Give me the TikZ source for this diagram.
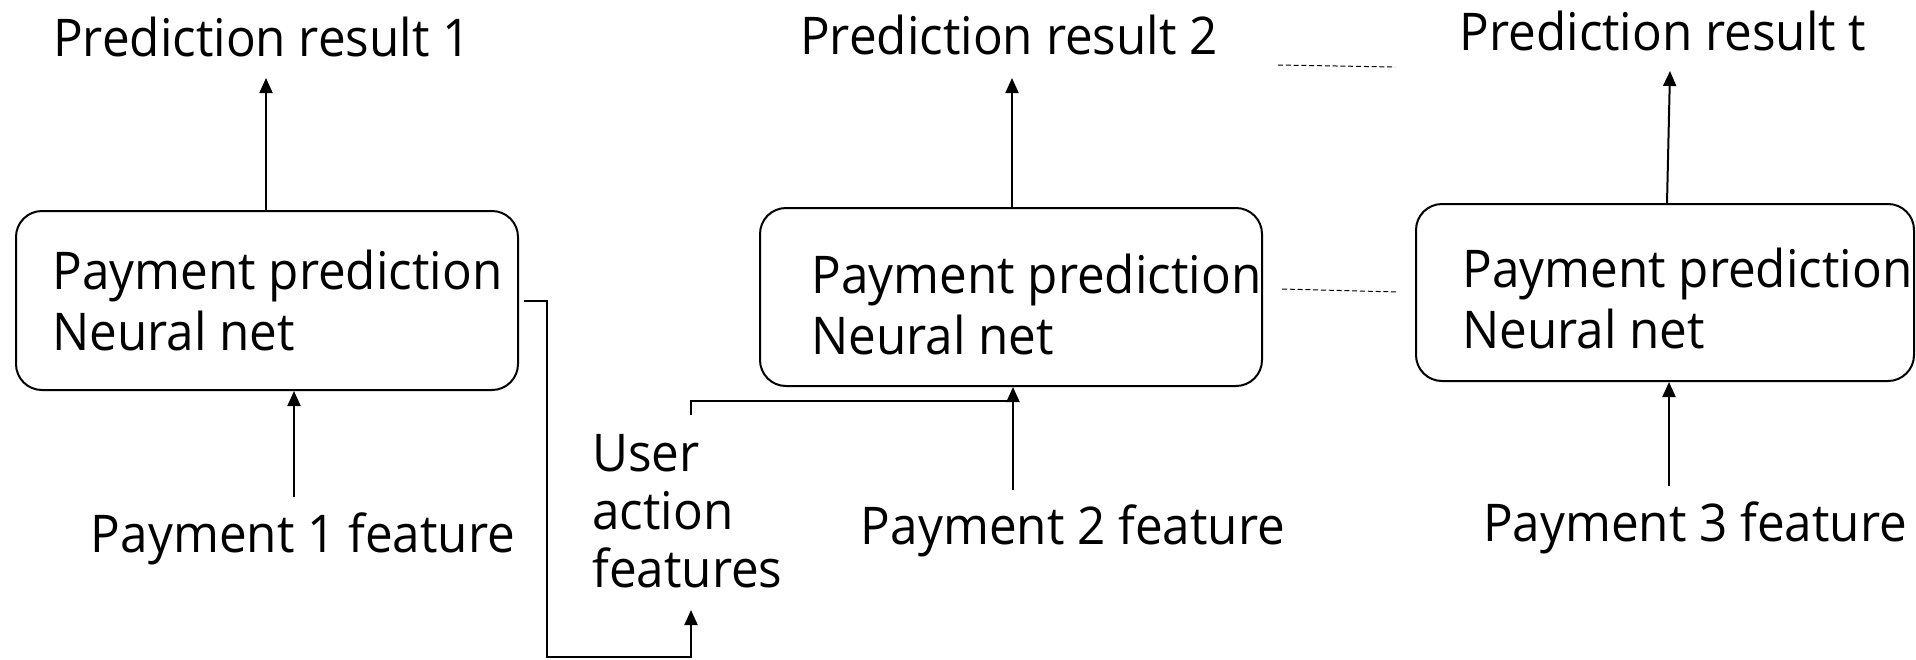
\documentclass[tikz,border=0pt]{standalone}
\usepackage{fontspec}
\setmainfont{Open Sans}[FakeStretch=0.95]
\usepackage{tikz}
\usetikzlibrary{arrows.meta}
\tikzset{
    every picture/.append style={
        >={Triangle[length=7.5pt,width=6.5pt]}
    }
}
\tikzset{
    netbox/.style={shape=rectangle,draw=black,line width=1pt,rounded corners=13pt},
    lbl/.style={font=\fontsize{26}{30.2}\selectfont,inner sep=0pt},
    wire/.style={line width=1pt},
    flow/.style={wire,->},
    etc/.style={line width=0.5pt,dash pattern=on 2.5pt off 1.4pt},
}

\begin{document}
\begin{tikzpicture}[x=0.5pt,y=-0.5pt]
		\useasboundingbox (0,0) rectangle (1916,659);

		% nets, one per payment
		\node[netbox,minimum width=251pt,minimum height=89.5pt] (net1) at (267,300.5) {};
		\node[netbox,minimum width=251pt,minimum height=89pt] (net2) at (1011,297) {};
		\node[netbox,minimum width=249pt,minimum height=88.5pt] (net3) at (1665,292.5) {};
		% base of a multi-line node sits on its last line
		\node[lbl,align=left,anchor=base west] (txt1) at (52,350) {Payment prediction\\Neural net};
		\node[lbl,align=left,anchor=base west] (txt2) at (811,354) {Payment prediction\\Neural net};
		\node[lbl,align=left,anchor=base west] (txt3) at (1462,348) {Payment prediction\\Neural net};

		% outputs
		\node[lbl,anchor=base] (res1) at (262,56) {Prediction result 1};
		\node[lbl,anchor=base] (res2) at (1009,54) {Prediction result 2};
		\node[lbl,anchor=base] (rest) at (1663,50) {Prediction result t};

		% inputs
		\node[lbl,anchor=base] (feat1) at (303,552) {Payment 1 feature};
		\node[lbl,anchor=base] (feat2) at (1073,544) {Payment 2 feature};
		\node[lbl,anchor=base] (feat3) at (1695,541) {Payment 3 feature};
		\node[lbl,font=\fontsize{26}{28.8}\selectfont,align=left,anchor=base west] (user) at (592,587) {User\\action\\features};

		\coordinate (up1) at (266,78);
		\coordinate (up2) at (1012,78);
		\coordinate (up3) at (1670,71);
		\coordinate (in1) at (294,497);
		\coordinate (in2) at (1013,490);
		\coordinate (in3) at (1669,486);
		\coordinate (low) at (547,657);
		\coordinate (back) at (691,610);
		\coordinate (act) at (691,415);
		\coordinate (join) at (1013,401);

		\draw[flow] (up1 |- net1.north) -- (up1);
		\draw[flow] (up2 |- net2.north) -- (up2);
		\draw[flow] ([xshift=1pt]net3.north) -- (up3);
		\draw[flow] (in1) -- (in1 |- net1.south);
		\draw[flow] (in2) -- (in2 |- net2.south);
		\draw[flow] (in3) -- (in3 |- net3.south);

		% user actions carried over to the next payment
		\draw[flow] ([xshift=2.5pt]net1.east) -| (low) -| (back);
		\draw[wire] (act) |- (join);

		% and so on up to t
		\draw[etc] (1278,65) coordinate (d1a) -- (1395,67) coordinate (d1b);
		\draw[etc] (1282,289) coordinate (d2a) -- (1398,292) coordinate (d2b);
\end{tikzpicture}
\end{document}
